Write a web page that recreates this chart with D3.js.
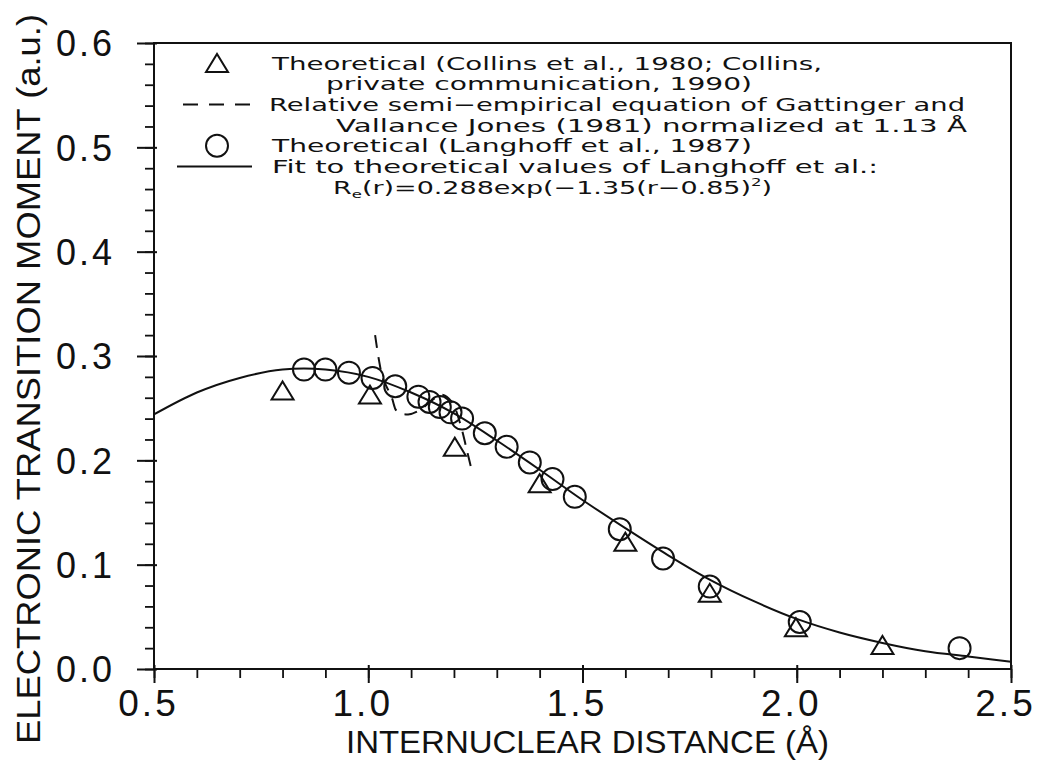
<!DOCTYPE html>
<html lang="en">
<head>
    <meta charset="UTF-8">
    <script src="https://d3js.org/d3.v7.min.js"></script>
    <style>
        body { margin: 0; background: #fff; }
        svg { display: block; }
        .tick text { font-family: "Liberation Sans", Arial, sans-serif; }
    </style>
    <title>Electronic transition moment</title>
</head>
<body>
    <script type="text/javascript">
    // values
    const fitR = [0.5, 0.6, 0.7, 0.8, 0.85, 0.9, 1.0, 1.1, 1.2, 1.3, 1.4, 1.5, 1.6, 1.7, 1.8, 1.9, 2.0, 2.1, 2.2, 2.3, 2.4, 2.5];
    const fitV = [0.244, 0.265, 0.279, 0.287, 0.288, 0.287, 0.280, 0.265, 0.245, 0.219, 0.191, 0.162, 0.135, 0.109, 0.085, 0.065, 0.048, 0.035, 0.025, 0.017, 0.012, 0.007];

    const langhoffR = [0.85, 0.90, 0.955, 1.01, 1.063, 1.117, 1.143, 1.167, 1.192, 1.219, 1.272, 1.323, 1.377, 1.430, 1.482, 1.587, 1.688, 1.797, 2.007, 2.380];
    const langhoffV = [0.287, 0.287, 0.284, 0.279, 0.271, 0.261, 0.256, 0.251, 0.246, 0.240, 0.226, 0.213, 0.198, 0.182, 0.165, 0.134, 0.106, 0.079, 0.045, 0.020];

    const collinsR = [0.80, 1.004, 1.202, 1.40, 1.60, 1.797, 1.998, 2.20];
    const collinsV = [0.267, 0.263, 0.213, 0.178, 0.122, 0.073, 0.040, 0.023];

    // Gattinger & Vallance Jones, dashed
    const gvjR = [1.016, 1.025, 1.034, 1.055, 1.067, 1.093, 1.12, 1.15, 1.172, 1.195, 1.214, 1.230, 1.240];
    const gvjV = [0.320, 0.296, 0.279, 0.260, 0.247, 0.244, 0.248, 0.258, 0.263, 0.256, 0.236, 0.210, 0.193];

    const xMajor = [0.5, 1.0, 1.5, 2.0, 2.5];
    const yMajor = [0.0, 0.1, 0.2, 0.3, 0.4, 0.5, 0.6];
    const xMinor = d3.range(0.5, 2.51, 0.1);
    const yMinor = d3.range(0, 0.601, 0.02);

    const legendLines = [
        "Theoretical (Collins et al., 1980; Collins,",
        "private communication, 1990)",
        "Relative semi\u2212empirical equation of Gattinger and",
        "Vallance Jones (1981) normalized at 1.13 \u00c5",
        "Theoretical (Langhoff et al., 1987)",
        "Fit to theoretical values of Langhoff et al.:",
        null // formula line, built with tspans below
    ];

    const W = 1037, H = 761;
    const mLeft = 154, mRight = 1011, mTop = 43, mBottom = 669;

    const x = d3.scaleLinear([0.5, 2.5], [mLeft, mRight]);
    const y = d3.scaleLinear([0, 0.6], [mBottom, mTop]);

    const svg = d3.select("body").append("svg")
        .attr("width", W)
        .attr("height", H);

    const ink = "#111";

    // minor ticks
    svg.append("g")
        .attr("transform", "translate(0," + mBottom + ")")
        .call(d3.axisBottom(x).tickValues(xMinor).tickSize(9).tickFormat(""))
        .call(g => g.select(".domain").remove())
        .call(g => g.selectAll("line").attr("stroke", ink).attr("stroke-width", 1.8));

    svg.append("g")
        .attr("transform", "translate(" + mLeft + ",0)")
        .call(d3.axisLeft(y).tickValues(yMinor).tickSize(9).tickFormat(""))
        .call(g => g.select(".domain").remove())
        .call(g => g.selectAll("line").attr("stroke", ink).attr("stroke-width", 1.8));

    // major ticks and labels
    svg.append("g")
        .attr("transform", "translate(0," + mBottom + ")")
        .call(d3.axisBottom(x).tickValues(xMajor).tickSize(14).tickPadding(6).tickFormat(d3.format(".1f")))
        .call(g => g.select(".domain").remove())
        .call(g => g.selectAll("line").attr("stroke", ink).attr("stroke-width", 2).attr("y1", -4))
        .call(g => g.selectAll("text")
            .attr("fill", ink)
            .attr("font-size", 37)
            .attr("letter-spacing", 3)
            .attr("dx", -6)
            .attr("dy", "0.72em"));

    svg.append("g")
        .attr("transform", "translate(" + mLeft + ",0)")
        .call(d3.axisLeft(y).tickValues(yMajor).tickSize(17).tickPadding(22).tickFormat(d3.format(".1f")))
        .call(g => g.select(".domain").remove())
        .call(g => g.selectAll("line").attr("stroke", ink).attr("stroke-width", 2).attr("x1", 3))
        .call(g => g.selectAll("text")
            .attr("fill", ink)
            .attr("font-size", 36)
            .attr("letter-spacing", 3)
            .attr("dy", "0.36em"));

    // frame
    svg.append("rect")
        .attr("x", mLeft)
        .attr("y", mTop)
        .attr("width", mRight - mLeft)
        .attr("height", mBottom - mTop)
        .attr("fill", "none")
        .attr("stroke", ink)
        .attr("stroke-width", 2);

    // axis titles
    svg.append("text")
        .attr("x", (mLeft + mRight) / 2 + 5)
        .attr("y", 753)
        .attr("text-anchor", "middle")
        .attr("font-family", "'Liberation Sans', Arial, sans-serif")
        .attr("font-size", 32)
        .attr("textLength", 483)
        .attr("lengthAdjust", "spacingAndGlyphs")
        .attr("fill", ink)
        .text("INTERNUCLEAR DISTANCE (\u00c5)");

    svg.append("text")
        .attr("transform", "translate(40," + 379 + ") rotate(-90)")
        .attr("text-anchor", "middle")
        .attr("font-family", "'Liberation Sans', Arial, sans-serif")
        .attr("font-size", 34)
        .attr("textLength", 730)
        .attr("lengthAdjust", "spacingAndGlyphs")
        .attr("fill", ink)
        .text("ELECTRONIC TRANSITION MOMENT (a.u.)");

    // fit curve
    const fitData = fitR.map((r, i) => [r, fitV[i]]);
    svg.append("path")
        .datum(fitData)
        .attr("fill", "none")
        .attr("stroke", ink)
        .attr("stroke-width", 2)
        .attr("d", d3.line().x(d => x(d[0])).y(d => y(d[1])).curve(d3.curveMonotoneX));

    // semi-empirical dashed curve
    const gvjData = gvjR.map((r, i) => [r, gvjV[i]]);
    svg.append("path")
        .datum(gvjData)
        .attr("fill", "none")
        .attr("stroke", ink)
        .attr("stroke-width", 2)
        .attr("stroke-dasharray", "13,9")
        .attr("d", d3.line().x(d => x(d[0])).y(d => y(d[1])).curve(d3.curveCatmullRom));

    // marker shapes
    const triW = 22, triH = 18;
    function triPath(cx, cy) {
        return "M" + (cx - triW / 2) + "," + (cy + triH / 2) +
            "L" + cx + "," + (cy - triH / 2) +
            "L" + (cx + triW / 2) + "," + (cy + triH / 2) + "Z";
    }

    // Langhoff circles
    svg.append("g")
        .selectAll("circle")
        .data(langhoffR.map((r, i) => [r, langhoffV[i]]))
        .enter()
        .append("circle")
        .attr("cx", d => x(d[0]))
        .attr("cy", d => y(d[1]))
        .attr("r", 11)
        .attr("fill", "none")
        .attr("stroke", ink)
        .attr("stroke-width", 2);

    // Collins triangles
    svg.append("g")
        .selectAll("path")
        .data(collinsR.map((r, i) => [r, collinsV[i]]))
        .enter()
        .append("path")
        .attr("d", d => triPath(x(d[0]), y(d[1])))
        .attr("fill", "none")
        .attr("stroke", ink)
        .attr("stroke-width", 2);

    // legend
    const legX = [272, 326, 269, 336, 272, 272, 333];
    const legEnd = [822, 752, 965, 967, 752, 878, 772];
    const rowY = d3.range(7).map(i => 63 + i * 20.7);
    const legend = svg.append("g")
        .attr("font-family", "'DejaVu Sans', sans-serif")
        .attr("font-size", 18)
        .attr("fill", ink);

    legendLines.forEach((txt, i) => {
        const t = legend.append("text")
            .attr("x", legX[i])
            .attr("y", rowY[i] + 6.5)
            .attr("textLength", legEnd[i] - legX[i])
            .attr("lengthAdjust", "spacingAndGlyphs");
        if (txt !== null) {
            t.text(txt);
        } else {
            t.append("tspan").text("R");
            t.append("tspan").attr("font-size", 11).attr("dy", 4).text("e");
            t.append("tspan").attr("dy", -4).text("(r)=0.288exp(\u22121.35(r\u22120.85)");
            t.append("tspan").attr("font-size", 11).attr("dy", -8).text("2");
            t.append("tspan").attr("dy", 8).text(")");
        }
    });

    legend.append("path")
        .attr("d", triPath(217, rowY[0]))
        .attr("fill", "none")
        .attr("stroke", ink)
        .attr("stroke-width", 2);
    legend.append("line")
        .attr("x1", 183).attr("x2", 250)
        .attr("y1", rowY[2]).attr("y2", rowY[2])
        .attr("stroke", ink)
        .attr("stroke-width", 2)
        .attr("stroke-dasharray", "15,11");
    legend.append("circle")
        .attr("cx", 217).attr("cy", rowY[4])
        .attr("r", 11)
        .attr("fill", "none")
        .attr("stroke", ink)
        .attr("stroke-width", 2);
    legend.append("line")
        .attr("x1", 177).attr("x2", 252)
        .attr("y1", rowY[5]).attr("y2", rowY[5])
        .attr("stroke", ink)
        .attr("stroke-width", 2);
    </script>
</body>
</html>
